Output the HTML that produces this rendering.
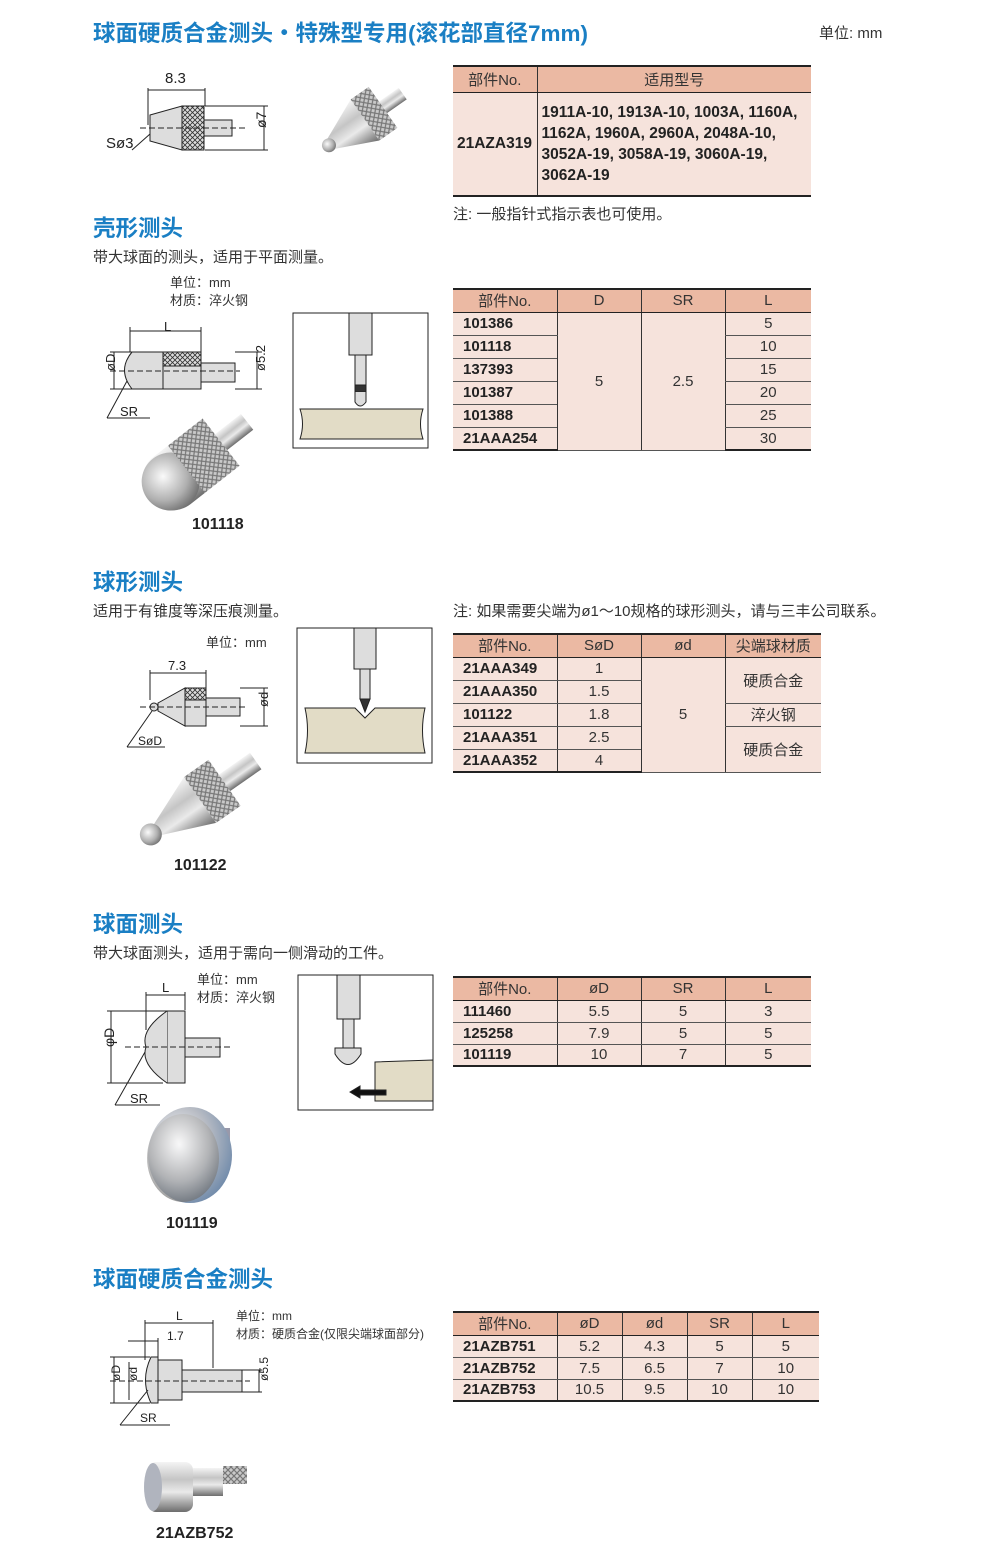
<!DOCTYPE html>
<html><head><meta charset="utf-8"><style>
body{margin:0;background:#fff;}
#p{position:relative;width:1000px;height:1551px;overflow:hidden;font-family:"Liberation Sans","Noto Sans CJK SC",sans-serif;color:#222;}
.a{position:absolute;white-space:nowrap;}
.t{color:#1a7fc4;font-size:22.5px;font-weight:bold;}
.s{font-size:15px;color:#333;}
.sm{font-size:13px;color:#333;line-height:18px;}
.lab{font-size:16px;font-weight:bold;color:#222;}
table{position:absolute;border-collapse:collapse;table-layout:fixed;font-size:15px;}
th{background:#ebb9a3;font-weight:normal;color:#333;border-left:1px solid #333;border-bottom:1.5px solid #222;border-top:2px solid #222;padding:0;}
td{background:#f6e3dc;text-align:center;border-left:1px solid #333;border-bottom:1px solid #555;padding:0;color:#333;}
th:first-child,td:first-child{border-left:none;}
td.b{font-weight:bold;text-align:left;padding-left:10px;color:#222;}
tr:last-child td{border-bottom:2px solid #222;}
svg{position:absolute;left:0;top:0;}
</style></head><body><div id="p">

<div class="a t" style="left:93px;top:16px;">球面硬质合金测头・特殊型专用(滚花部直径7mm)</div>
<div class="a s" style="left:819px;top:22px;">单位: mm</div>

<table style="left:453px;top:65px;width:358px;">
<col style="width:84px"><col>
<tr style="height:26px"><th>部件No.</th><th>适用型号</th></tr>
<tr style="height:104px"><td class="b" style="padding-left:4px;font-size:15.5px">21AZA319</td><td class="b" style="padding-left:4px;font-size:15.5px;line-height:21px">1911A-10, 1913A-10, 1003A, 1160A,<br>1162A, 1960A, 2960A, 2048A-10,<br>3052A-19, 3058A-19, 3060A-19,<br>3062A-19</td></tr>
</table>
<div class="a s" style="left:453px;top:203px;">注: 一般指针式指示表也可使用。</div>

<div class="a t" style="left:93px;top:211px;">壳形测头</div>
<div class="a s" style="left:93px;top:246px;">带大球面的测头，适用于平面测量。</div>
<div class="a sm" style="left:170px;top:274px;">单位：mm<br>材质：淬火钢</div>

<table style="left:453px;top:288px;width:358px;">
<col style="width:104px"><col style="width:84px"><col style="width:84px"><col>
<tr style="height:23px"><th>部件No.</th><th>D</th><th>SR</th><th>L</th></tr>
<tr style="height:23px"><td class="b">101386</td><td rowspan="6">5</td><td rowspan="6">2.5</td><td>5</td></tr>
<tr style="height:23px"><td class="b">101118</td><td>10</td></tr>
<tr style="height:23px"><td class="b">137393</td><td>15</td></tr>
<tr style="height:23px"><td class="b">101387</td><td>20</td></tr>
<tr style="height:23px"><td class="b">101388</td><td>25</td></tr>
<tr style="height:23px"><td class="b">21AAA254</td><td>30</td></tr>
</table>
<div class="a lab" style="left:192px;top:516px;">101118</div>

<div class="a t" style="left:93px;top:565px;">球形测头</div>
<div class="a s" style="left:93px;top:600px;">适用于有锥度等深压痕测量。</div>
<div class="a s" style="left:453px;top:600px;">注: 如果需要尖端为ø1～10规格的球形测头，请与三丰公司联系。</div>
<div class="a sm" style="left:206px;top:634px;">单位：mm</div>

<table style="left:453px;top:633px;width:368px;">
<col style="width:104px"><col style="width:84px"><col style="width:84px"><col>
<tr style="height:23px"><th>部件No.</th><th>SøD</th><th>ød</th><th>尖端球材质</th></tr>
<tr style="height:23px"><td class="b">21AAA349</td><td>1</td><td rowspan="5">5</td><td rowspan="2">硬质合金</td></tr>
<tr style="height:23px"><td class="b">21AAA350</td><td>1.5</td></tr>
<tr style="height:23px"><td class="b">101122</td><td>1.8</td><td>淬火钢</td></tr>
<tr style="height:23px"><td class="b">21AAA351</td><td>2.5</td><td rowspan="2">硬质合金</td></tr>
<tr style="height:23px"><td class="b">21AAA352</td><td>4</td></tr>
</table>
<div class="a lab" style="left:174px;top:857px;">101122</div>

<div class="a t" style="left:93px;top:907px;">球面测头</div>
<div class="a s" style="left:93px;top:942px;">带大球面测头，适用于需向一侧滑动的工件。</div>
<div class="a sm" style="left:197px;top:971px;">单位：mm<br>材质：淬火钢</div>

<table style="left:453px;top:976px;width:358px;">
<col style="width:104px"><col style="width:84px"><col style="width:84px"><col>
<tr style="height:23px"><th>部件No.</th><th>øD</th><th>SR</th><th>L</th></tr>
<tr style="height:22px"><td class="b">111460</td><td>5.5</td><td>5</td><td>3</td></tr>
<tr style="height:22px"><td class="b">125258</td><td>7.9</td><td>5</td><td>5</td></tr>
<tr style="height:22px"><td class="b">101119</td><td>10</td><td>7</td><td>5</td></tr>
</table>
<div class="a lab" style="left:166px;top:1215px;">101119</div>

<div class="a t" style="left:93px;top:1262px;">球面硬质合金测头</div>
<div class="a sm" style="left:236px;top:1307px;font-size:12px;">单位：mm<br>材质：硬质合金(仅限尖端球面部分)</div>

<table style="left:453px;top:1311px;width:366px;">
<col style="width:104px"><col style="width:65px"><col style="width:65px"><col style="width:65px"><col>
<tr style="height:23px"><th>部件No.</th><th>øD</th><th>ød</th><th>SR</th><th>L</th></tr>
<tr style="height:22px"><td class="b">21AZB751</td><td>5.2</td><td>4.3</td><td>5</td><td>5</td></tr>
<tr style="height:22px"><td class="b">21AZB752</td><td>7.5</td><td>6.5</td><td>7</td><td>10</td></tr>
<tr style="height:22px"><td class="b">21AZB753</td><td>10.5</td><td>9.5</td><td>10</td><td>10</td></tr>
</table>
<div class="a lab" style="left:156px;top:1525px;">21AZB752</div>

<svg width="1000" height="1551" viewBox="0 0 1000 1551" font-family="Liberation Sans, sans-serif">
<defs>
<pattern id="kn" width="5" height="5" patternUnits="userSpaceOnUse"><rect width="5" height="5" fill="#ddd"/><path d="M0 0L5 5M5 0L0 5" stroke="#333" stroke-width="0.8"/></pattern>
<pattern id="kp" width="6" height="6" patternUnits="userSpaceOnUse"><rect width="6" height="6" fill="#c9c9c9"/><path d="M0 0L6 6M6 0L0 6" stroke="#777" stroke-width="1.2"/></pattern>
<linearGradient id="met" x1="0" y1="0" x2="0" y2="1"><stop offset="0" stop-color="#f4f4f4"/><stop offset="0.35" stop-color="#c5c5c5"/><stop offset="0.6" stop-color="#eaeaea"/><stop offset="1" stop-color="#6d6d6d"/></linearGradient>
<radialGradient id="ball" cx="0.45" cy="0.35" r="0.7"><stop offset="0" stop-color="#fafafa"/><stop offset="0.6" stop-color="#b0b0b0"/><stop offset="1" stop-color="#666"/></radialGradient>
<radialGradient id="blu" cx="0.35" cy="0.35" r="0.75"><stop offset="0" stop-color="#f8f8fa"/><stop offset="0.5" stop-color="#b8bcc4"/><stop offset="1" stop-color="#6a86a8"/></radialGradient>
</defs>
<g stroke="#222" fill="none" stroke-width="1">
<!-- Drawing 1 -->
<line x1="148" y1="90" x2="205" y2="90"/><text x="165" y="83" font-size="15" fill="#222" stroke="none">8.3</text>
<line x1="148" y1="88" x2="148" y2="125"/><line x1="205" y1="88" x2="205" y2="106"/>
<path d="M150 115 L182 106 L182 150 L150 141 Z" fill="#ddd"/>
<rect x="182" y="106" width="22" height="44" fill="url(#kn)"/>
<rect x="204" y="120" width="28" height="16" fill="#ddd"/>
<line x1="140" y1="128" x2="245" y2="128" stroke-dasharray="6 3"/>
<line x1="205" y1="106" x2="268" y2="106"/><line x1="205" y1="150" x2="268" y2="150"/><line x1="264" y1="106" x2="264" y2="150"/>
<text x="258" y="136" font-size="14" fill="#222" stroke="none" transform="rotate(-90 258 128)">ø7</text>
<line x1="132" y1="150" x2="150" y2="134"/><text x="106" y="148" font-size="15" fill="#222" stroke="none">Sø3</text>
<!-- Photo 1 -->
<g stroke="none" transform="translate(365 120) rotate(-35)">
<rect x="20" y="-7" width="26" height="14" fill="url(#met)"/>
<path d="M-42 -6 L0 -25 L0 25 L-42 6Z" fill="url(#met)"/>
<rect x="0" y="-25" width="22" height="50" fill="url(#kp)"/>
<circle cx="-44" cy="0" r="7" fill="url(#ball)"/>
</g>

<!-- Drawing 2 -->
<line x1="130" y1="331" x2="201" y2="331"/><line x1="130" y1="327" x2="130" y2="352"/><line x1="201" y1="327" x2="201" y2="352"/>
<text x="164" y="331" font-size="13" fill="#222" stroke="none">L</text>
<path d="M163 352 L132 352 Q117 370 132 389 L163 389 Z" fill="#ddd"/>
<rect x="163" y="352" width="38" height="37" fill="url(#kn)"/>
<rect x="163" y="366" width="38" height="23" fill="#ddd"/>
<rect x="201" y="363" width="34" height="19" fill="#ddd"/>
<line x1="110" y1="371" x2="240" y2="371" stroke-dasharray="6 3"/>
<line x1="110" y1="352" x2="132" y2="352"/><line x1="110" y1="389" x2="132" y2="389"/><line x1="114" y1="352" x2="114" y2="389"/>
<text x="108" y="378" font-size="13" fill="#222" stroke="none" transform="rotate(-90 108 371)">øD</text>
<line x1="235" y1="352" x2="262" y2="352"/><line x1="235" y1="389" x2="262" y2="389"/><line x1="257" y1="352" x2="257" y2="389"/>
<text x="252" y="384" font-size="13" fill="#222" stroke="none" transform="rotate(-90 252 371)">ø5.2</text>
<path d="M107 418 L127 381 M107 418 L150 418"/><text x="120" y="416" font-size="13" fill="#222" stroke="none">SR</text>
<rect x="293" y="313" width="135" height="135"/>
<rect x="349" y="313" width="23" height="42" fill="#ddd"/><rect x="355" y="355" width="11" height="30" fill="#ddd"/>
<rect x="355" y="385" width="11" height="7" fill="#333"/><path d="M355 392 L355 402 Q360 410 366 402 L366 392" fill="#ddd"/>
<path d="M300 409 L423 409 Q418 424 423 439 L300 439 Q305 424 300 409Z" fill="#e2dcc6"/>
<!-- photo 2 -->
<g stroke="none" transform="translate(188 468) rotate(-38)">
<rect x="40" y="-10" width="35" height="20" fill="url(#met)"/>
<path d="M-20 -30 L0 -30 L0 30 L-20 30 A30 30 0 0 1 -20 -30Z" fill="url(#met)"/>
<circle cx="-22" cy="0" r="29" fill="url(#ball)"/>
<rect x="-2" y="-30" width="44" height="60" fill="url(#kp)"/>
</g>

<!-- Drawing 3 -->
<line x1="150" y1="673" x2="206" y2="673"/><text x="168" y="670" font-size="13" fill="#222" stroke="none">7.3</text>
<line x1="150" y1="670" x2="150" y2="700"/><line x1="206" y1="670" x2="206" y2="688"/>
<circle cx="154" cy="707" r="4" fill="#ddd"/>
<path d="M158 703 L185 688 L185 726 L158 711Z" fill="#ddd"/>
<rect x="185" y="688" width="21" height="38" fill="url(#kn)"/><rect x="185" y="700" width="21" height="26" fill="#ddd"/>
<rect x="206" y="698" width="34" height="18" fill="#ddd"/>
<line x1="140" y1="707" x2="246" y2="707" stroke-dasharray="6 3"/>
<line x1="240" y1="688" x2="268" y2="688"/><line x1="240" y1="726" x2="268" y2="726"/><line x1="264" y1="688" x2="264" y2="726"/>
<text x="260" y="715" font-size="13" fill="#222" stroke="none" transform="rotate(-90 260 707)">ød</text>
<path d="M127 747 L152 711 M127 747 L165 747"/><text x="138" y="745" font-size="12" fill="#222" stroke="none">SøD</text>
<rect x="297" y="628" width="135" height="135"/>
<rect x="354" y="628" width="22" height="41" fill="#ddd"/><rect x="360" y="669" width="10" height="30" fill="#ddd"/>
<path d="M360 699 L365 712 L370 699Z" fill="#333"/>
<path d="M305 708 L355 708 L365 718 L375 708 L425 708 Q420 730 425 753 L305 753 Q310 730 305 708Z" fill="#e2dcc6"/>
<g stroke="none" transform="translate(200 800) rotate(-35)">
<rect x="28" y="-10" width="40" height="20" fill="url(#met)"/>
<path d="M-58 -4 L0 -28 L0 28 L-58 4Z" fill="url(#met)"/>
<rect x="0" y="-28" width="30" height="56" fill="url(#kp)"/>
<circle cx="-60" cy="0" r="11" fill="url(#ball)"/>
</g>

<!-- Drawing 4 -->
<line x1="146" y1="995" x2="185" y2="995"/><line x1="146" y1="992" x2="146" y2="1030"/><line x1="185" y1="992" x2="185" y2="1010"/>
<text x="162" y="992" font-size="13" fill="#222" stroke="none">L</text>
<path d="M167 1011 L167 1083 L185 1083 L185 1011Z" fill="#ddd"/>
<path d="M167 1011 Q140 1030 146 1047 Q140 1064 167 1083" fill="#ddd"/>
<rect x="185" y="1038" width="35" height="19" fill="#ddd"/>
<line x1="125" y1="1047" x2="232" y2="1047" stroke-dasharray="6 3"/>
<line x1="107" y1="1011" x2="167" y2="1011"/><line x1="107" y1="1083" x2="163" y2="1083"/><line x1="111" y1="1011" x2="111" y2="1083"/>
<text x="106" y="1055" font-size="14" fill="#222" stroke="none" transform="rotate(-90 106 1047)">φD</text>
<path d="M115 1105 L145 1052 M115 1105 L160 1105"/><text x="130" y="1103" font-size="13" fill="#222" stroke="none">SR</text>
<rect x="298" y="975" width="135" height="135"/>
<rect x="337" y="975" width="23" height="44" fill="#ddd"/><rect x="343" y="1019" width="11" height="29" fill="#ddd"/>
<path d="M335 1048 L361 1048 L361 1054 Q348 1075 335 1054Z" fill="#ddd"/>
<path d="M375 1062 L433 1060 L433 1101 L375 1101Z" fill="#e2dcc6"/>
<path d="M350 1092 L360 1086 L360 1090 L386 1090 L386 1095 L360 1095 L360 1098Z" fill="#111"/>
<g stroke="none">
<rect x="218" y="1128" width="12" height="16" fill="#99a"/>
<ellipse cx="190" cy="1155" rx="42" ry="48" fill="url(#blu)"/>
<ellipse cx="183" cy="1158" rx="36" ry="44" fill="url(#ball)" opacity="0.7"/></g>

<!-- Drawing 5 -->
<line x1="145" y1="1323" x2="213" y2="1323"/><text x="176" y="1320" font-size="12" fill="#222" stroke="none">L</text>
<line x1="145" y1="1341" x2="158" y2="1341"/><line x1="128" y1="1341" x2="145" y2="1341"/><text x="167" y="1340" font-size="12" fill="#222" stroke="none">1.7</text>
<line x1="145" y1="1320" x2="145" y2="1360"/><line x1="158" y1="1338" x2="158" y2="1357"/><line x1="213" y1="1320" x2="213" y2="1368"/>
<path d="M151 1357 Q140 1380 151 1403 L158 1403 L158 1357Z" fill="#ddd"/>
<rect x="158" y="1360" width="24" height="40" fill="#ddd"/>
<rect x="182" y="1370" width="60" height="22" fill="#ddd"/>
<line x1="110" y1="1381" x2="250" y2="1381" stroke-dasharray="6 3"/>
<line x1="110" y1="1357" x2="150" y2="1357"/><line x1="110" y1="1403" x2="150" y2="1403"/><line x1="114" y1="1357" x2="114" y2="1403"/>
<line x1="129" y1="1362" x2="129" y2="1400"/>
<text x="112" y="1389" font-size="12" fill="#222" stroke="none" transform="rotate(-90 112 1381)">øD</text>
<text x="130" y="1388" font-size="12" fill="#222" stroke="none" transform="rotate(-90 130 1381)">ød</text>
<line x1="242" y1="1370" x2="262" y2="1370"/><line x1="242" y1="1392" x2="262" y2="1392"/><line x1="259" y1="1370" x2="259" y2="1392"/>
<text x="257" y="1392" font-size="12" fill="#222" stroke="none" transform="rotate(-90 257 1381)">ø5.5</text>
<path d="M120 1425 L148 1390 M120 1425 L170 1425"/><text x="140" y="1422" font-size="12" fill="#222" stroke="none">SR</text>
<g stroke="none"><rect x="148" y="1462" width="45" height="50" rx="8" fill="url(#met)"/>
<ellipse cx="153" cy="1487" rx="9" ry="24" fill="#b0b4be"/>
<rect x="193" y="1468" width="30" height="28" fill="url(#met)"/><rect x="223" y="1466" width="24" height="18" fill="url(#kp)"/></g>
</g>
</svg>
</div></body></html>
